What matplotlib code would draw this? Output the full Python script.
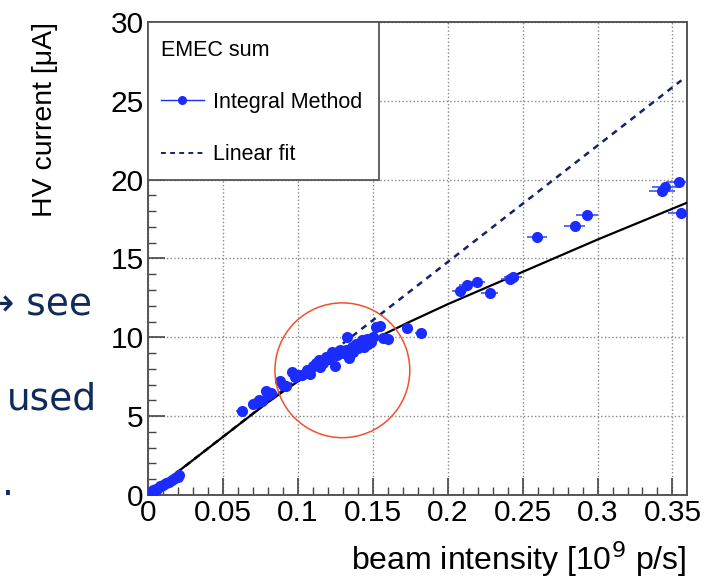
import matplotlib
matplotlib.use('Agg')
import matplotlib.pyplot as plt
import matplotlib.ticker as ticker
from matplotlib.lines import Line2D
from matplotlib.patches import Ellipse, Rectangle

plt.rcParams['font.family'] = ['Liberation Sans', 'DejaVu Sans']

# low intensity points (near origin)
low_x = [0.002, 0.003, 0.004, 0.005, 0.006, 0.008, 0.010, 0.012, 0.014, 0.016, 0.018, 0.020, 0.021]
low_y = [0.15, 0.30, 0.25, 0.40, 0.35, 0.55, 0.65, 0.75, 0.85, 0.95, 1.05, 1.15, 1.25]

# main cluster
mid_x = [0.0625, 0.070, 0.072, 0.074, 0.076, 0.079, 0.080, 0.082, 0.088, 0.090,
         0.092, 0.096, 0.098, 0.100, 0.103, 0.106, 0.108, 0.110, 0.112, 0.114,
         0.115, 0.117, 0.119, 0.121, 0.123, 0.125, 0.126, 0.128, 0.130, 0.132,
         0.133, 0.134, 0.136, 0.137, 0.139, 0.140, 0.142, 0.143, 0.144, 0.146,
         0.147, 0.149, 0.150, 0.152, 0.155, 0.157, 0.160, 0.173, 0.182]
mid_y = [5.30, 5.75, 5.85, 6.00, 5.95, 6.60, 6.35, 6.50, 7.20, 7.00,
         6.90, 7.80, 7.50, 7.60, 7.60, 7.90, 7.70, 8.20, 8.35, 8.55,
         8.10, 8.40, 8.75, 8.60, 9.05, 8.15, 8.90, 9.20, 9.00, 9.20,
         10.00, 8.70, 9.40, 9.10, 9.60, 9.30, 9.70, 9.80, 9.40, 9.90,
         9.60, 9.70, 10.00, 10.65, 10.70, 9.95, 9.90, 10.60, 10.30]
mid_xerr = 0.0035

# high intensity points with visible x errors
high_x = [0.208, 0.213, 0.2196, 0.228, 0.2413, 0.2435, 0.2596, 0.2847, 0.2931,
          0.3429, 0.345, 0.3547, 0.3558]
high_y = [12.95, 13.35, 13.52, 12.80, 13.71, 13.80, 16.39, 17.09, 17.78,
          19.26, 19.56, 19.83, 17.91]
high_xerr = [0.0052, 0.0053, 0.0055, 0.0057, 0.0060, 0.0060, 0.0065, 0.0071, 0.0073,
             0.0086, 0.0086, 0.0089, 0.0089]

# linear fit (dashed) and saturation curve (solid)
lin_x = [0.0, 0.356]
lin_y = [0.0, 26.3]
fit_x = [0.0, 0.02, 0.04, 0.06, 0.08, 0.09, 0.10, 0.11, 0.125, 0.15, 0.175, 0.20, 0.25, 0.30, 0.36]
fit_y = [0.0, 1.48, 2.95, 4.42, 5.88, 6.55, 7.20, 7.80, 8.60, 9.85, 11.0, 12.1, 14.15, 16.2, 18.55]

blue = '#1a2cff'
navy = '#15226e'

fig = plt.figure(figsize=(7.13, 5.82), dpi=100)
ax = fig.add_axes([0.2076, 0.1495, 0.7555, 0.8127])

ax.plot(lin_x, lin_y, color=navy, lw=1.8, ls=(0, (2.5, 2.2)), zorder=3)
ax.plot(fit_x, fit_y, color='black', lw=1.6, zorder=3)

ax.errorbar(low_x, low_y, xerr=0.002, fmt='o', color=blue, ms=8, mew=0,
            ecolor='#3a55ff', elinewidth=1.2, capsize=2.5, zorder=4)
ax.errorbar(mid_x, mid_y, xerr=mid_xerr, fmt='o', color=blue, ms=8, mew=0,
            ecolor='#3a55ff', elinewidth=1.2, capsize=2.5, zorder=4)
ax.errorbar(high_x, high_y, xerr=high_xerr, fmt='o', color=blue, ms=8, mew=0,
            ecolor='#3a55ff', elinewidth=1.2, capsize=2.5, zorder=4)

# highlight circle
ax.add_patch(Ellipse((0.1297, 7.91), 0.090, 8.55, fill=False, ec='#f0502d', lw=1.1, zorder=5))

ax.set_xlim(0, 0.3595)
ax.set_ylim(0, 30)
ax.xaxis.set_major_locator(ticker.MultipleLocator(0.05))
ax.xaxis.set_minor_locator(ticker.MultipleLocator(0.01))
ax.yaxis.set_major_locator(ticker.MultipleLocator(5))
ax.yaxis.set_minor_locator(ticker.MultipleLocator(1))
ax.xaxis.set_major_formatter(ticker.FormatStrFormatter('%g'))
ax.tick_params(which='both', direction='in', colors='#444444', labelcolor='black', labelsize=21.5)
ax.tick_params(which='major', length=12, width=1.2)
ax.tick_params(which='minor', length=6, width=1.0)
ax.tick_params(axis='x', pad=3)
ax.tick_params(axis='y', pad=3)
for s in ax.spines.values():
    s.set_color('#555555')
    s.set_linewidth(1.4)
ax.grid(True, which='major', color='#888888', ls=':', lw=1.0)
ax.set_axisbelow(True)

ax.set_xlabel('beam intensity [10$^{9}$ p/s]', fontsize=23, loc='right', labelpad=9)
ax.set_ylabel('HV current [\u03bcA]', fontsize=20.5, loc='top', labelpad=38)

# legend box
ax.add_patch(Rectangle((0, 0.666), 0.429, 0.334, transform=ax.transAxes,
                       fc='white', ec='#555555', lw=1.3, zorder=6))
handles = [Line2D([], [], color=blue, lw=1.0, marker='o', ms=6.5, mew=0),
           Line2D([], [], color=navy, lw=1.4, ls=(0, (2.5, 2.2)))]
leg = ax.legend(handles, ['Integral Method', 'Linear fit'], title='EMEC sum',
                loc='upper left', bbox_to_anchor=(0.0, 0.99), frameon=False,
                fontsize=15.5, title_fontsize=15.5, labelspacing=1.45,
                handlelength=2.0, handletextpad=0.4, alignment='left',
                borderaxespad=0.2)
leg.set_zorder(7)

# cut-off slide text on the left
slide = '#0f2a5c'
fig.text(92 / 713, 1 - 305 / 582, '\u2192 see', ha='right', va='center', fontsize=27,
         color=slide, family='DejaVu Sans')
fig.text(97 / 713, 1 - 400 / 582, 'used', ha='right', va='center', fontsize=27,
         color=slide, family='DejaVu Sans')
fig.text(2 / 713, 1 - 485 / 582, '.', ha='left', va='center', fontsize=27,
         color=slide, family='DejaVu Sans')

fig.savefig('out.png', dpi=100)
